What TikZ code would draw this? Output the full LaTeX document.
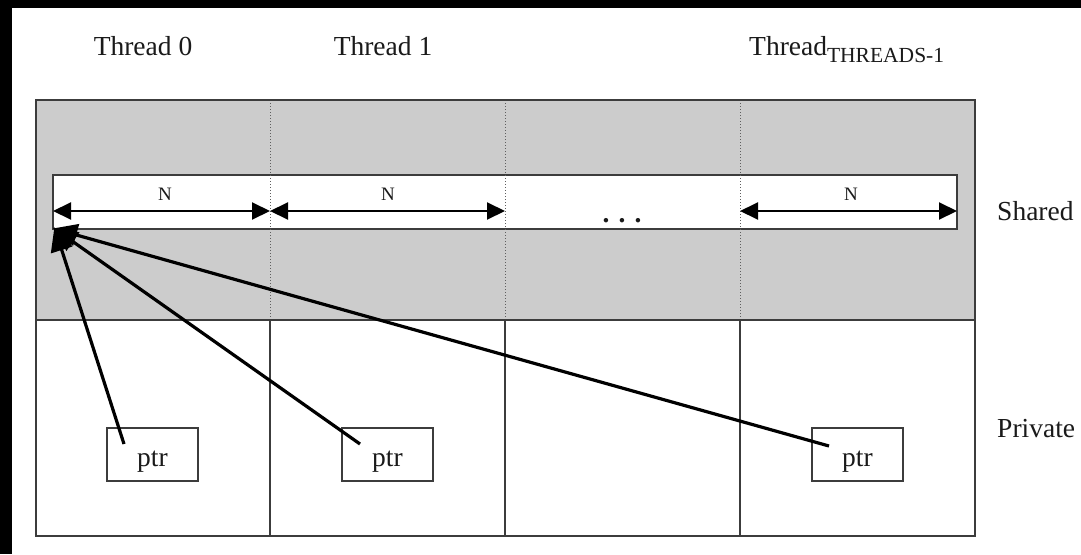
\documentclass[tikz,border=0pt]{standalone}
\usepackage{fontspec}
\setmainfont{Liberation Serif}
\usetikzlibrary{arrows.meta}
\definecolor{shgrey}{HTML}{CCCCCC}
\definecolor{ink}{HTML}{1A1A1A}
\begin{document}
\begin{tikzpicture}[x=1pt,y=-1pt,
  lbl/.style={font=\fontsize{27.5}{30}\selectfont, text=ink, inner sep=0pt, anchor=base},
  nlbl/.style={font=\fontsize{19}{21}\selectfont, text=ink, inner sep=0pt, anchor=base},
  frame/.style={draw=ink!85, line width=1.8pt},
  dotdiv/.style={draw=ink!70, line width=1pt, dotted},
  soliddiv/.style={draw=ink!85, line width=1.4pt},
  nspan/.style={draw=black, line width=2pt, {Triangle[length=18pt,width=17pt]}-{Triangle[length=18pt,width=17pt]}},
  ptrbox/.style={draw=ink!85, line width=1.7pt, fill=white, minimum width=91pt, minimum height=53pt, inner sep=0pt, text height=23pt, text depth=0pt, font=\fontsize{27.5}{30}\selectfont, text=ink},
  ptrarrow/.style={draw=black, line width=3.2pt, -{Triangle[length=24pt,width=22pt]}, shorten >=-2pt}
]
\useasboundingbox (0,0) rectangle (1081,554);
\fill[white] (0,0) rectangle (1081,554);
\fill[black] (0,0) rectangle (12,554);
\fill[black] (0,0) rectangle (1081,8);

% thread labels
\node[lbl] (t0) at (143,55) {Thread 0};
\node[lbl] (t1) at (383,55) {Thread 1};
\node[lbl, anchor=base west] (tn) at (749,55) {Thread\raisebox{-7pt}{\fontsize{21.5}{23}\selectfont THREADS-1}};

% shared region
\fill[shgrey] (36,100) rectangle (975,320);
% strip
\node[draw=ink!85, line width=1.8pt, fill=white, minimum width=904pt, minimum height=54pt, inner sep=0pt] (strip) at (505,202) {};

% dividers
\foreach \x/\n in {270/a,505/b,740/c}{
  \coordinate (top\n) at (\x,100);
  \coordinate (mid\n) at (\x,320);
  \coordinate (bot\n) at (\x,536);
  \draw[dotdiv] (top\n) -- (mid\n);
  \draw[soliddiv] (mid\n) -- (bot\n);
}
% outer frame and shared/private border
\coordinate (ml) at (36,320);
\coordinate (mr) at (975,320);
\draw[frame] (36,100) rectangle (975,536);
\draw[frame] (ml) -- (mr);

% N spans
\coordinate (s0) at (53,211);
\coordinate (s1) at (270,211);
\coordinate (s2) at (505,211);
\coordinate (s3) at (740,211);
\coordinate (s4) at (957,211);
\draw[nspan] (s0) -- (s1);
\draw[nspan] (s1) -- (s2);
\draw[nspan] (s3) -- (s4);
\node[nlbl] (n0) at (165,200) {N};
\node[nlbl] (n1) at (388,200) {N};
\node[nlbl] (n3) at (851,200) {N};
\node[lbl] (dots) at (622,222) {\textbf{. . .}};

% side labels
\node[lbl, anchor=base west] (sh) at (997,220) {Shared};
\node[lbl, anchor=base west] (pv) at (997,437) {Private};

% ptr boxes
\node[ptrbox] (p0) at (152.5,454.5) {ptr};
\node[ptrbox] (p1) at (387.5,454.5) {ptr};
\node[ptrbox] (p2) at (857.5,454.5) {ptr};

\coordinate (tgt) at (55,229);
\coordinate (a0) at (124,444);
\coordinate (a1) at (360,444);
\coordinate (a2) at (829,446);
\draw[ptrarrow] (a0) -- (tgt);
\draw[ptrarrow] (a1) -- (tgt);
\draw[ptrarrow] (a2) -- (tgt);
\end{tikzpicture}
\end{document}
